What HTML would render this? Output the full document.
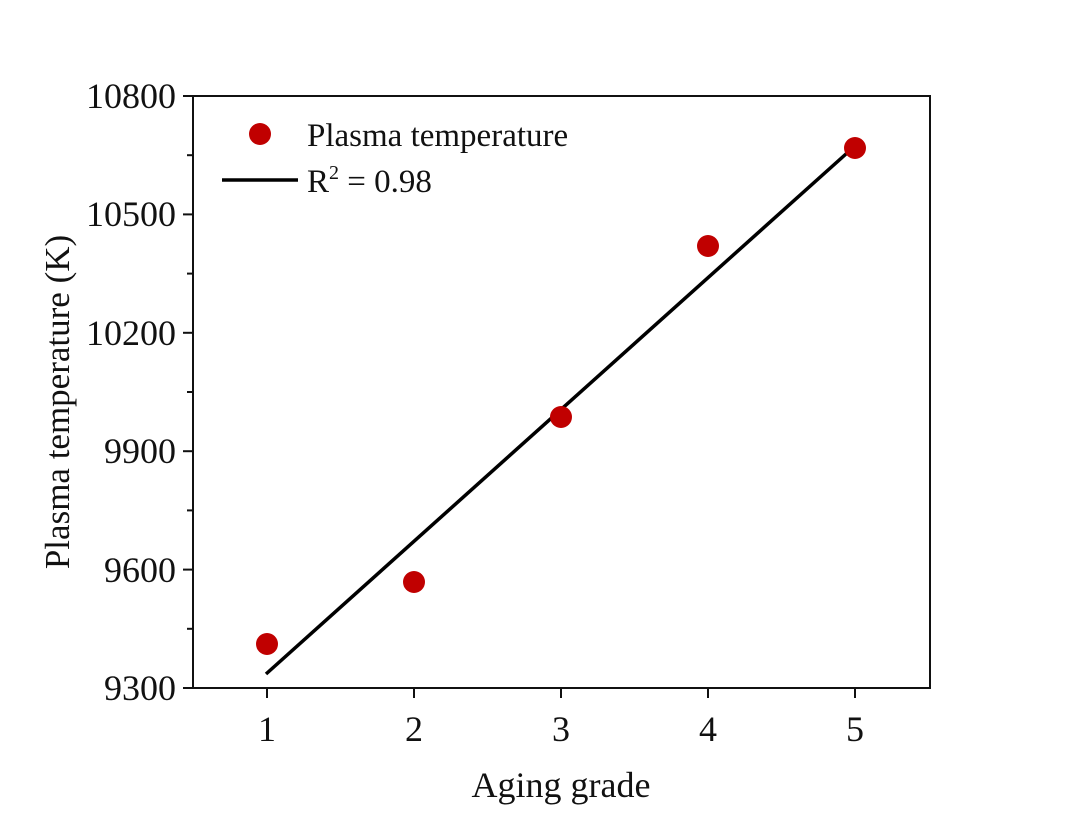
<!DOCTYPE html>
<html><head><style>body{margin:0;background:#fff}svg{display:block}text{font-family:"Liberation Serif",serif;fill:#111}</style></head><body>
<svg width="1080" height="827" viewBox="0 0 1080 827">
<rect x="193" y="96" width="737" height="592" fill="none" stroke="#111" stroke-width="2"/>
<g stroke="#111" stroke-width="2">
<line x1="183" y1="96" x2="193" y2="96"/><line x1="183" y1="214.4" x2="193" y2="214.4"/><line x1="183" y1="332.8" x2="193" y2="332.8"/><line x1="183" y1="451.2" x2="193" y2="451.2"/><line x1="183" y1="569.6" x2="193" y2="569.6"/><line x1="183" y1="688" x2="193" y2="688"/>
<line x1="187" y1="155.2" x2="193" y2="155.2"/><line x1="187" y1="273.6" x2="193" y2="273.6"/><line x1="187" y1="392" x2="193" y2="392"/><line x1="187" y1="510.4" x2="193" y2="510.4"/><line x1="187" y1="628.8" x2="193" y2="628.8"/>
<line x1="267" y1="688" x2="267" y2="698"/><line x1="414" y1="688" x2="414" y2="698"/><line x1="561" y1="688" x2="561" y2="698"/><line x1="708" y1="688" x2="708" y2="698"/><line x1="855" y1="688" x2="855" y2="698"/>
</g>
<g font-size="36" text-anchor="end">
<text x="176" y="108">10800</text><text x="176" y="226">10500</text><text x="176" y="345">10200</text><text x="176" y="463">9900</text><text x="176" y="582">9600</text><text x="176" y="700">9300</text>
</g>
<g font-size="36" text-anchor="middle">
<text x="267" y="741">1</text><text x="414" y="741">2</text><text x="561" y="741">3</text><text x="708" y="741">4</text><text x="855" y="741">5</text>
<text x="561" y="797" font-size="36">Aging grade</text>
<text transform="translate(69,402) rotate(-90)" font-size="35">Plasma temperature (K)</text>
</g>
<line x1="266" y1="674" x2="856" y2="145" stroke="#000" stroke-width="3.5"/>
<g fill="#c00000">
<circle cx="267" cy="644" r="11"/><circle cx="414" cy="582" r="11"/><circle cx="561" cy="417" r="11"/><circle cx="708" cy="246" r="11"/><circle cx="855" cy="148" r="11"/>
<circle cx="260" cy="134" r="11"/>
</g>
<line x1="222" y1="180" x2="298" y2="180" stroke="#000" stroke-width="3.5"/>
<text x="307" y="146" font-size="33">Plasma temperature</text>
<text x="307" y="192" font-size="33">R<tspan font-size="20" dy="-13">2</tspan><tspan dy="13"> = 0.98</tspan></text>
</svg>
</body></html>
